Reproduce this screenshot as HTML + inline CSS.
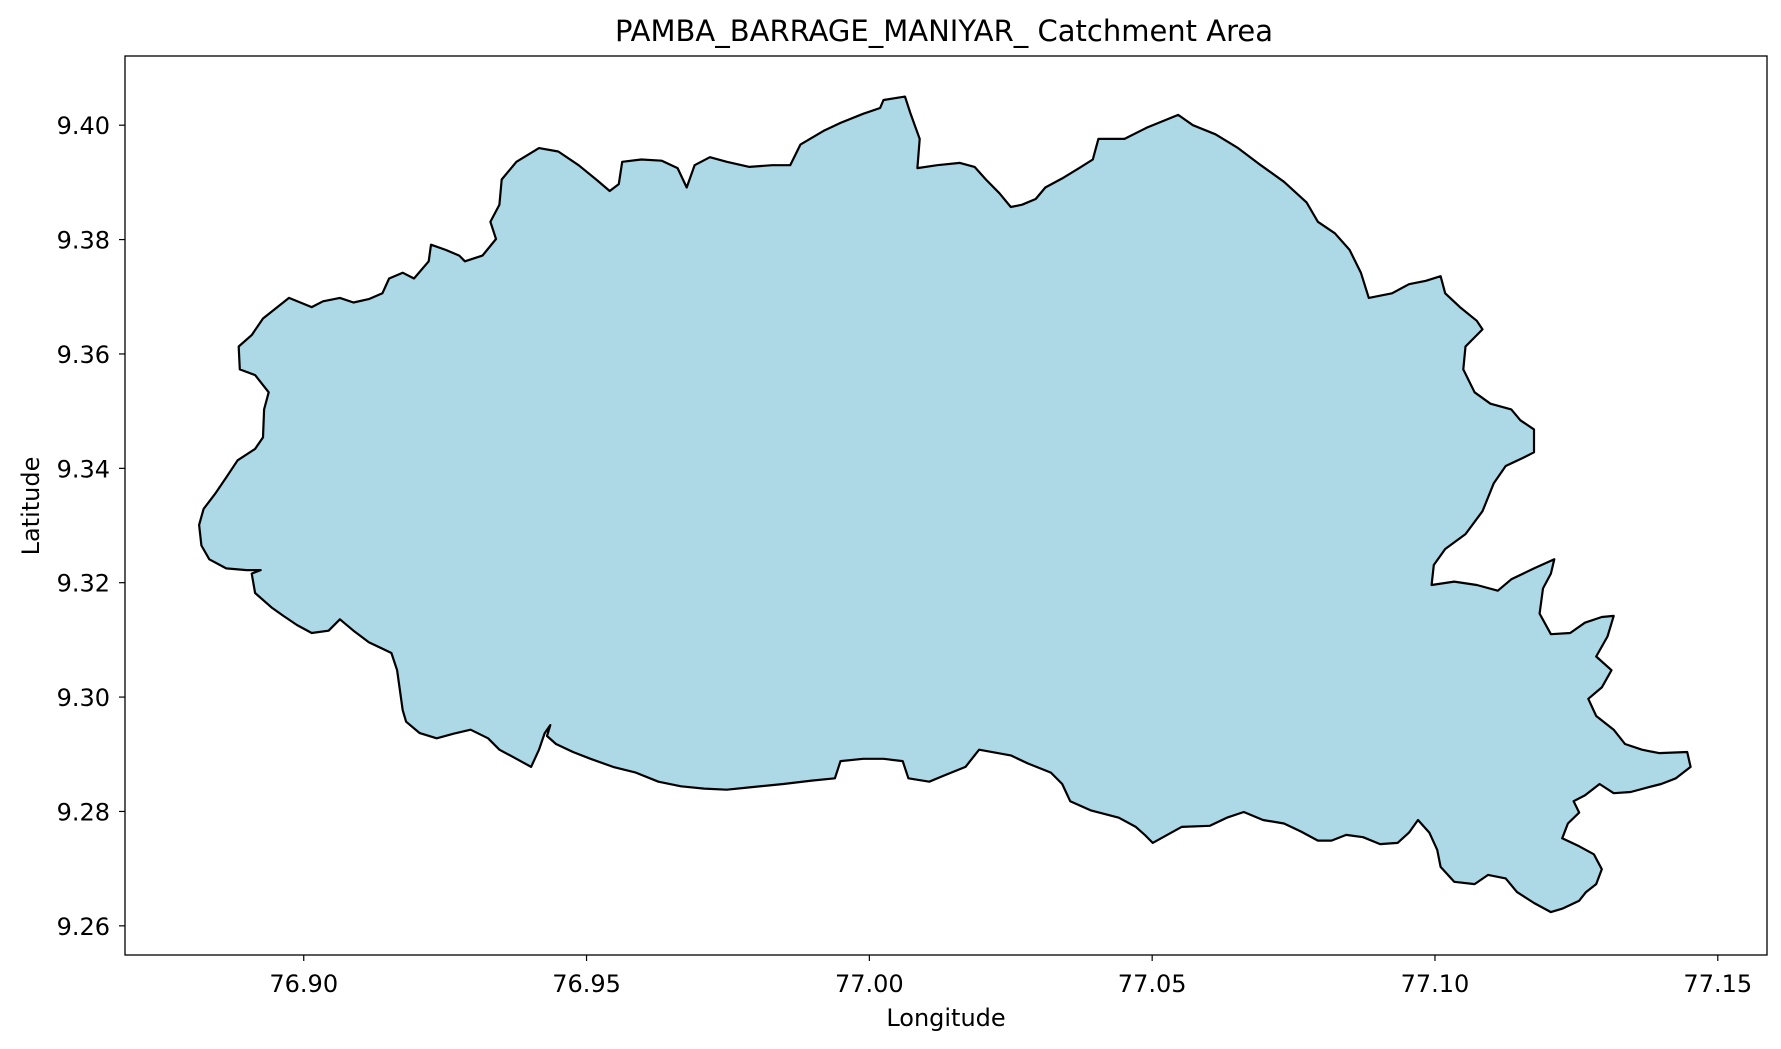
<!DOCTYPE html>
<html><head><meta charset="utf-8"><style>
html,body{margin:0;padding:0;background:#fff;}
svg{display:block;font-family:"DejaVu Sans","Liberation Sans",sans-serif;}
</style></head><body>
<svg id="chart" width="1781" height="1049" viewBox="0 0 1781 1049">
<rect x="0" y="0" width="1781" height="1049" fill="#fff"/>
<text x="944" y="41" text-anchor="middle" font-size="29" fill="#000">PAMBA_BARRAGE_MANIYAR_ Catchment Area</text>
<g id="plot"></g>
<g id="xticks"></g>
<g id="yticks"></g>
<rect x="125" y="56" width="1642" height="899" fill="none" stroke="#000" stroke-width="1.3"/>
<text x="946" y="1026" text-anchor="middle" font-size="24">Longitude</text>
<text x="0" y="0" transform="translate(39,506) rotate(-90)" text-anchor="middle" font-size="24">Latitude</text>
</svg>
<script>
const lons=[76.8815,76.8823,76.8843,76.8863,76.8883,76.8914,76.8928,76.8930,76.8938,76.8914,76.8887,76.8885,76.8908,76.8928,76.8974,76.9014,76.9034,76.9064,76.9088,76.9115,76.9139,76.9151,76.9175,76.9195,76.9221,76.9225,76.9251,76.9275,76.9285,76.9316,76.9340,76.9330,76.9346,76.9350,76.9376,76.9416,76.9450,76.9486,76.9517,76.9541,76.9557,76.9563,76.9597,76.9633,76.9661,76.9677,76.9691,76.9718,76.9748,76.9788,76.9828,76.9860,76.9878,76.9919,76.9949,76.9989,77.0019,77.0025,77.0063,77.0073,77.0089,77.0085,77.0120,77.0160,77.0186,77.0206,77.0230,77.0250,77.0270,77.0294,77.0311,77.0341,77.0371,77.0395,77.0405,77.0451,77.0491,77.0546,77.0572,77.0612,77.0652,77.0692,77.0733,77.0773,77.0793,77.0823,77.0849,77.0869,77.0883,77.0924,77.0954,77.0984,77.1010,77.1018,77.1044,77.1074,77.1084,77.1054,77.1050,77.1070,77.1098,77.1135,77.1151,77.1175,77.1175,77.1155,77.1125,77.1104,77.1084,77.1054,77.1018,77.0998,77.0994,77.1034,77.1074,77.1111,77.1135,77.1175,77.1211,77.1205,77.1191,77.1185,77.1205,77.1239,77.1265,77.1295,77.1316,77.1305,77.1285,77.1312,77.1295,77.1271,77.1285,77.1316,77.1336,77.1366,77.1396,77.1446,77.1452,77.1426,77.1400,77.1376,77.1346,77.1316,77.1291,77.1265,77.1245,77.1255,77.1235,77.1225,77.1255,77.1281,77.1295,77.1285,77.1267,77.1255,77.1225,77.1205,77.1175,77.1145,77.1125,77.1094,77.1070,77.1034,77.1010,77.1004,77.0990,77.0970,77.0954,77.0934,77.0903,77.0873,77.0843,77.0817,77.0793,77.0763,77.0733,77.0696,77.0662,77.0632,77.0602,77.0552,77.0501,77.0487,77.0471,77.0441,77.0391,77.0355,77.0341,77.0321,77.0280,77.0250,77.0194,77.0170,77.0130,77.0106,77.0069,77.0059,77.0025,76.9989,76.9949,76.9939,76.9898,76.9848,76.9788,76.9748,76.9708,76.9667,76.9627,76.9587,76.9547,76.9507,76.9476,76.9446,76.9430,76.9436,76.9426,76.9416,76.9402,76.9376,76.9346,76.9326,76.9295,76.9265,76.9235,76.9205,76.9181,76.9175,76.9165,76.9155,76.9115,76.9088,76.9064,76.9044,76.9014,76.8988,76.8964,76.8944,76.8914,76.8908,76.8924,76.8899,76.8863,76.8833,76.8819];
const lats=[9.3301,9.3329,9.3355,9.3384,9.3414,9.3434,9.3454,9.3503,9.3533,9.3563,9.3573,9.3613,9.3633,9.3662,9.3698,9.3682,9.3692,9.3698,9.3690,9.3696,9.3706,9.3732,9.3742,9.3732,9.3762,9.3791,9.3782,9.3772,9.3762,9.3772,9.3801,9.3831,9.3861,9.3905,9.3936,9.3960,9.3954,9.3930,9.3905,9.3885,9.3897,9.3936,9.3940,9.3938,9.3925,9.3891,9.3930,9.3944,9.3936,9.3927,9.3930,9.3930,9.3966,9.3990,9.4004,9.4020,9.4030,9.4044,9.4050,9.4020,9.3976,9.3925,9.3930,9.3934,9.3927,9.3905,9.3881,9.3857,9.3861,9.3871,9.3891,9.3907,9.3925,9.3940,9.3976,9.3976,9.3996,9.4018,9.4000,9.3984,9.3960,9.3930,9.3901,9.3865,9.3831,9.3811,9.3782,9.3742,9.3698,9.3706,9.3722,9.3728,9.3736,9.3706,9.3682,9.3658,9.3643,9.3613,9.3573,9.3533,9.3513,9.3503,9.3484,9.3468,9.3428,9.3418,9.3404,9.3374,9.3325,9.3285,9.3259,9.3231,9.3196,9.3202,9.3196,9.3186,9.3206,9.3225,9.3241,9.3216,9.3190,9.3146,9.3110,9.3112,9.3130,9.3140,9.3142,9.3106,9.3071,9.3047,9.3017,9.2997,9.2967,9.2943,9.2918,9.2908,9.2902,9.2904,9.2878,9.2858,9.2848,9.2842,9.2834,9.2832,9.2848,9.2828,9.2818,9.2798,9.2779,9.2753,9.2739,9.2725,9.2699,9.2673,9.2659,9.2644,9.2630,9.2624,9.2640,9.2659,9.2683,9.2689,9.2673,9.2677,9.2703,9.2733,9.2763,9.2785,9.2763,9.2745,9.2743,9.2755,9.2759,9.2749,9.2749,9.2765,9.2779,9.2785,9.2799,9.2789,9.2775,9.2773,9.2745,9.2759,9.2773,9.2789,9.2802,9.2818,9.2848,9.2868,9.2884,9.2898,9.2908,9.2878,9.2862,9.2852,9.2858,9.2888,9.2892,9.2892,9.2888,9.2858,9.2854,9.2848,9.2842,9.2838,9.2840,9.2844,9.2852,9.2868,9.2878,9.2892,9.2904,9.2918,9.2932,9.2951,9.2937,9.2908,9.2878,9.2892,9.2908,9.2928,9.2943,9.2936,9.2928,9.2937,9.2957,9.2977,9.3047,9.3077,9.3096,9.3116,9.3136,9.3116,9.3112,9.3126,9.3142,9.3156,9.3182,9.3216,9.3222,9.3222,9.3225,9.3241,9.3265];
const xTickVals=[76.90,76.95,77.00,77.05,77.10,77.15];
const xTickLabels=["76.90","76.95","77.00","77.05","77.10","77.15"];
const yTickVals=[9.26,9.28,9.30,9.32,9.34,9.36,9.38,9.40];
const yTickLabels=["9.26","9.28","9.30","9.32","9.34","9.36","9.38","9.40"];

const X0=125,X1=1767,Y0=56,Y1=955;
const xMin=76.8684,xMax=77.1587,yMin=9.2549,yMax=9.4121;
function sx(v){return X0+(v-xMin)/(xMax-xMin)*(X1-X0);}
function sy(v){return Y1-(v-yMin)/(yMax-yMin)*(Y1-Y0);}
const NS="http://www.w3.org/2000/svg";
const plot=document.getElementById('plot');
let d="";
for(let i=0;i<lons.length;i++){d+=(i?"L":"M")+sx(lons[i]).toFixed(1)+","+sy(lats[i]).toFixed(1);}
d+="Z";
const p=document.createElementNS(NS,'path');
p.setAttribute('d',d);
p.setAttribute('fill','#add8e6');
p.setAttribute('stroke','#000');
p.setAttribute('stroke-width','2.2');
p.setAttribute('stroke-linejoin','round');


plot.appendChild(p);

const xg=document.getElementById('xticks');
xTickVals.forEach((v,i)=>{
  const x=sx(v);
  const l=document.createElementNS(NS,'line');
  l.setAttribute('x1',x);l.setAttribute('x2',x);l.setAttribute('y1',Y1);l.setAttribute('y2',Y1+6);
  l.setAttribute('stroke','#000');l.setAttribute('stroke-width','1.2');
  
  
  xg.appendChild(l);
  const t=document.createElementNS(NS,'text');
  t.setAttribute('x',x);t.setAttribute('y',Y1+37);t.setAttribute('text-anchor','middle');t.setAttribute('font-size','24');
  t.textContent=xTickLabels[i];
  
  
  xg.appendChild(t);
});
const yg=document.getElementById('yticks');
yTickVals.forEach((v,i)=>{
  const y=sy(v);
  const l=document.createElementNS(NS,'line');
  l.setAttribute('x1',X0-6);l.setAttribute('x2',X0);l.setAttribute('y1',y);l.setAttribute('y2',y);
  l.setAttribute('stroke','#000');l.setAttribute('stroke-width','1.2');
  
  
  yg.appendChild(l);
  const t=document.createElementNS(NS,'text');
  t.setAttribute('x',X0-15);t.setAttribute('y',y+9);t.setAttribute('text-anchor','end');t.setAttribute('font-size','24');
  t.textContent=yTickLabels[i];
  
  
  yg.appendChild(t);
});
</script>
</body></html>
